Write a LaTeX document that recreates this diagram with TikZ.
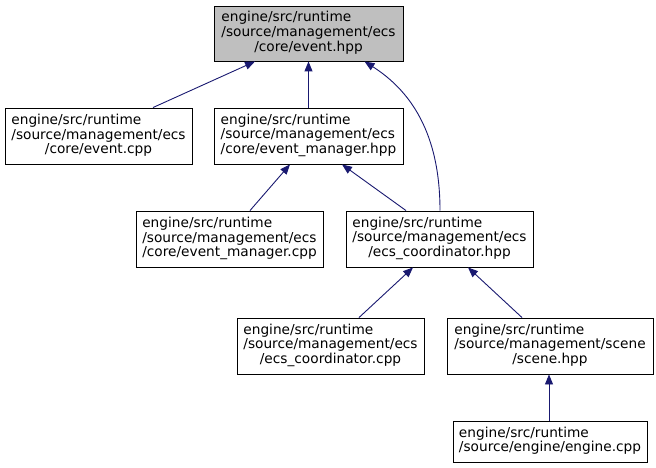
\documentclass[tikz,border=0pt]{standalone}
\usepackage{fontspec}
\setmainfont{DejaVu Sans}
\usetikzlibrary{arrows.meta}
\definecolor{edgeblue}{HTML}{191970}
\definecolor{rootgray}{HTML}{BFBFBF}
\newcommand{\lastc}[1]{\multicolumn{1}{@{}c@{}}{#1}}
\newcommand{\nodetext}[1]{\begin{tabular}{@{}l@{}}#1\end{tabular}}
\tikzset{
  filebox/.style={draw=black, line width=0.9pt, fill=white, inner xsep=4pt, inner ysep=5pt,
    font=\fontsize{13.7}{14.6}\selectfont, anchor=center},
  rootbox/.style={filebox, fill=rootgray},
  depedge/.style={draw=edgeblue, line width=0.9pt, -{Triangle[length=10pt,width=8pt]}},
}
\begin{document}
\begin{tikzpicture}[x=1pt,y=-1pt]
\useasboundingbox (0,0) rectangle (656,468);
\node[rootbox, minimum width=189, minimum height=55] (ehpp) at (308.5,33.5)
  {\nodetext{engine/src/runtime\\/source/management/ecs\\\lastc{/core/event.hpp}}};
\node[filebox, minimum width=187, minimum height=56] (ecpp) at (98.5,136)
  {\nodetext{engine/src/runtime\\/source/management/ecs\\\lastc{/core/event.cpp}}};
\node[filebox, minimum width=189, minimum height=56] (emh) at (308.5,136)
  {\nodetext{engine/src/runtime\\/source/management/ecs\\\lastc{/core/event\_manager.hpp}}};
\node[filebox, minimum width=187, minimum height=56] (emcpp) at (229.5,239)
  {\nodetext{engine/src/runtime\\/source/management/ecs\\\lastc{/core/event\_manager.cpp}}};
\node[filebox, minimum width=187, minimum height=56] (ecsh) at (439.5,239)
  {\nodetext{engine/src/runtime\\/source/management/ecs\\\lastc{/ecs\_coordinator.hpp}}};
\node[filebox, minimum width=187, minimum height=56] (ecscpp) at (330.5,346)
  {\nodetext{engine/src/runtime\\/source/management/ecs\\\lastc{/ecs\_coordinator.cpp}}};
\node[filebox, minimum width=206, minimum height=56] (scene) at (550,346)
  {\nodetext{engine/src/runtime\\/source/management/scene\\\lastc{/scene.hpp}}};
\node[filebox, minimum width=194, minimum height=41] (engine) at (550,441.5)
  {\nodetext{engine/src/runtime\\/source/engine/engine.cpp}};

\draw[depedge] ([xshift=54.5]ecpp.north) -- ([xshift=-53.5]ehpp.south);
\draw[depedge] (emh.north) -- (ehpp.south);
\draw[depedge] ([xshift=0.5]ecsh.north) .. controls (440,150) and (422,98) .. ([xshift=56]ehpp.south);
\draw[depedge] ([xshift=20.5]emcpp.north) -- ([xshift=-18.5]emh.south);
\draw[depedge] ([xshift=-33.5]ecsh.north) -- ([xshift=33.5]emh.south);
\draw[depedge] ([xshift=28.5]ecscpp.north) -- ([xshift=-26.5]ecsh.south);
\draw[depedge] ([xshift=-28]scene.north) -- ([xshift=28.5]ecsh.south);
\draw[depedge] ([xshift=-1]engine.north) -- ([xshift=-1]scene.south);
\end{tikzpicture}
\end{document}
